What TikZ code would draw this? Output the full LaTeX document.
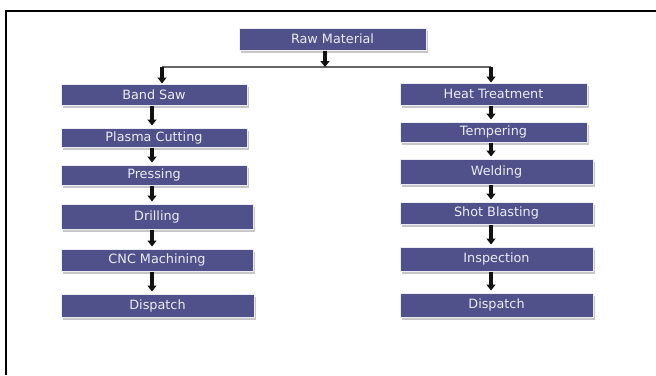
\documentclass[tikz,border=0pt]{standalone}
\usepackage{fontspec}
\setmainfont{DejaVu Sans}
\usepackage{tikz}
\usetikzlibrary{arrows.meta,positioning,shadows}
\definecolor{pfslate}{HTML}{50518A}
\definecolor{pfpale}{HTML}{ECECF4}
\definecolor{pfink}{HTML}{121212}

\begin{document}
\begin{tikzpicture}[x=1pt,y=-1pt,
    stagebox/.style={draw=pfpale,line width=1pt,fill=pfslate,inner sep=0pt,
      minimum width=186pt,minimum height=21pt,
      drop shadow={shadow xshift=2pt,shadow yshift=-2.5pt,fill=black!22,opacity=1},
      font=\fontsize{12.8}{14}\selectfont\color{pfpale}},
    flowarrow/.style={-{Triangle[width=9pt,length=6pt]},pfink,line width=3.6pt},
    splitline/.style={draw=black!60,line width=1.4pt}]
      \useasboundingbox (0,0) rectangle (656,375);
      % frame
      \draw[black,line width=2pt] (6,375) -- (6,11) -- (656,11);

      % top
      \node[stagebox,minimum width=187pt,minimum height=22pt] (raw) at (332.5,39) {Raw Material};
      \coordinate (split) at (325,67);
      \coordinate (splitL) at (162,67);
      \coordinate (splitR) at (491,67);

      % left column
      \node[stagebox] (bandsaw) at (154,94.5) {Band Saw};
      \node[stagebox,minimum height=19pt] (plasma) at (154,137.5) {Plasma Cutting};
      \node[stagebox,minimum height=20pt] (pressing) at (154,175) {Pressing};
      \node[stagebox,minimum width=192pt,minimum height=25pt] (drilling) at (157,216.5) {Drilling};
      \node[stagebox,minimum width=192pt,minimum height=22pt] (cnc) at (157,260) {CNC Machining};
      \node[stagebox,minimum width=193pt,minimum height=23pt] (dispatchL) at (157.5,305.5) {Dispatch};

      % right column
      \node[stagebox,minimum width=187pt,minimum height=22pt] (heat) at (493.5,94) {Heat Treatment};
      \node[stagebox,minimum width=187pt,minimum height=20pt] (tempering) at (493.5,132) {Tempering};
      \node[stagebox,minimum width=193pt,minimum height=25pt] (welding) at (496.5,171.5) {Welding};
      \node[stagebox,minimum width=193pt,minimum height=22pt] (shotblast) at (496.5,213) {Shot Blasting};
      \node[stagebox,minimum width=193pt,minimum height=24pt] (inspection) at (496.5,259) {Inspection};
      \node[stagebox,minimum width=193pt,minimum height=24pt] (dispatchR) at (496.5,305) {Dispatch};

      % split
      \draw[splitline] (splitL) -- (splitR);
      \draw[flowarrow] (raw.south -| split) -- (split);
      \draw[flowarrow] (splitL) -- (bandsaw.north -| splitL);
      \draw[flowarrow] (splitR) -- (heat.north -| splitR);

      % left arrows
      \coordinate (colL) at (152,0);
      \draw[flowarrow,shorten >=2pt] (bandsaw.south -| colL) -- (plasma.north -| colL);
      \draw[flowarrow,shorten >=2pt] (plasma.south -| colL) -- (pressing.north -| colL);
      \draw[flowarrow,shorten >=2pt] (pressing.south -| colL) -- (drilling.north -| colL);
      \draw[flowarrow,shorten >=2pt] (drilling.south -| colL) -- (cnc.north -| colL);
      \draw[flowarrow,shorten >=2pt] (cnc.south -| colL) -- (dispatchL.north -| colL);

      % right arrows
      \coordinate (colR) at (491,0);
      \draw[flowarrow,shorten >=2pt] (heat.south -| colR) -- (tempering.north -| colR);
      \draw[flowarrow,shorten >=2pt] (tempering.south -| colR) -- (welding.north -| colR);
      \draw[flowarrow,shorten >=2pt] (welding.south -| colR) -- (shotblast.north -| colR);
      \draw[flowarrow,shorten >=2pt] (shotblast.south -| colR) -- (inspection.north -| colR);
      \draw[flowarrow,shorten >=2pt] (inspection.south -| colR) -- (dispatchR.north -| colR);
    \end{tikzpicture}
\end{document}
